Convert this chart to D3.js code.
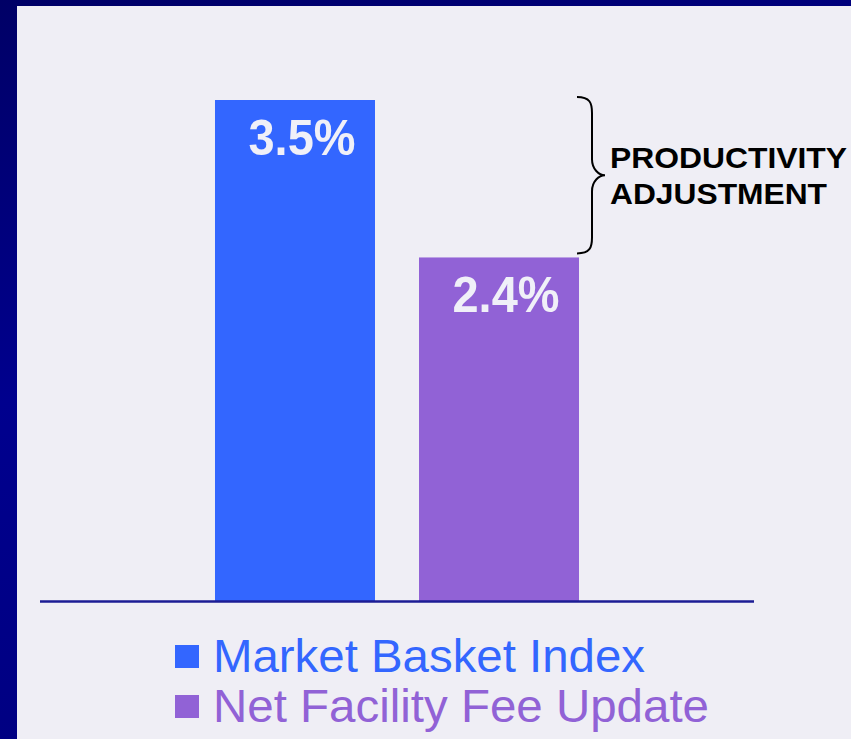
<!DOCTYPE html>
<html>
<head>
<meta charset="utf-8">
<script src="https://cdn.jsdelivr.net/npm/d3@7"></script>
<style>
  html, body { margin: 0; padding: 0; background: #00007a; }
  svg { display: block; font-family: Arial, "Liberation Sans", sans-serif; }
</style>
</head>
<body>
<svg id="chart"></svg>
<script>
const categories = ['Market Basket Index', 'Net Facility Fee Update']
const values = [3.5, 2.4]
const valueLabels = ['3.5%', '2.4%']
const colors = ['#3366ff', '#9162d6']
const braceLabel = ['PRODUCTIVITY', 'ADJUSTMENT']

const conf = {
  width: 851,
  height: 739,
  panel: { x: 17, y: 6 },
  baseline: 601,
  top: 100,
  axisX: [40, 754],
  panelColor: '#efeef5'
}

const svg = d3.select('#chart')
  .attr('width', conf.width)
  .attr('height', conf.height)

// navy frame with a soft diagonal shade
const grad = svg.append('defs').append('linearGradient')
  .attr('id', 'frame')
  .attr('x1', 0).attr('y1', 0).attr('x2', 0.3).attr('y2', 1)
grad.append('stop').attr('offset', 0).attr('stop-color', '#000066')
grad.append('stop').attr('offset', 0.5).attr('stop-color', '#00008e')
grad.append('stop').attr('offset', 1).attr('stop-color', '#000080')

svg.append('rect')
  .attr('width', conf.width)
  .attr('height', conf.height)
  .attr('fill', 'url(#frame)')

svg.append('rect')
  .attr('x', conf.panel.x)
  .attr('y', conf.panel.y)
  .attr('width', conf.width - conf.panel.x)
  .attr('height', conf.height - conf.panel.y)
  .attr('fill', conf.panelColor)

// scales
const x = d3.scaleBand()
  .domain(categories)
  .range([193, 601])
  .paddingInner(0.2157)
  .paddingOuter(0.1078)

const y = d3.scaleLinear()
  .domain([0, d3.max(values)])
  .range([conf.baseline, conf.top])

const data = categories.map((c, i) => ({ name: c, value: values[i], label: valueLabels[i], color: colors[i] }))

// bars
svg.selectAll('.bar')
  .data(data)
  .enter()
  .append('rect')
  .attr('class', 'bar')
  .attr('x', d => x(d.name))
  .attr('y', d => y(d.value))
  .attr('width', x.bandwidth())
  .attr('height', d => y(0) - y(d.value))
  .attr('fill', d => d.color)

// value labels inside bars
svg.selectAll('.value')
  .data(data)
  .enter()
  .append('text')
  .attr('class', 'value')
  .attr('x', d => x(d.name) + x.bandwidth() / 2 + 7)
  .attr('y', d => y(d.value) + 55)
  .attr('text-anchor', 'middle')
  .attr('font-size', 50)
  .attr('font-weight', 'bold')
  .attr('textLength', 107)
  .attr('lengthAdjust', 'spacingAndGlyphs')
  .attr('fill', '#f0f0f8')
  .text(d => d.label)

// baseline
svg.append('line')
  .attr('x1', conf.axisX[0])
  .attr('x2', conf.axisX[1])
  .attr('y1', y(0) + 0.5)
  .attr('y2', y(0) + 0.5)
  .attr('stroke', '#1c1c94')
  .attr('stroke-width', 2.5)

// brace between the two bar tops
const yTop = y(values[0]) - 3
const yBot = y(values[1]) - 4
const yMid = (yTop + yBot) / 2
const bx = 577, bv = 592, bp = 605
const brace = d3.path()
brace.moveTo(bx, yTop)
brace.bezierCurveTo(bv - 2, yTop, bv, yTop + 6, bv, yTop + 16)
brace.lineTo(bv, yMid - 16)
brace.bezierCurveTo(bv, yMid - 6, bp - 6, yMid, bp, yMid)
brace.bezierCurveTo(bp - 6, yMid, bv, yMid + 6, bv, yMid + 16)
brace.lineTo(bv, yBot - 16)
brace.bezierCurveTo(bv, yBot - 6, bv - 2, yBot, bx, yBot)

svg.append('path')
  .attr('d', brace.toString())
  .attr('fill', 'none')
  .attr('stroke', '#000')
  .attr('stroke-width', 2)

svg.selectAll('.brace-label')
  .data(braceLabel)
  .enter()
  .append('text')
  .attr('class', 'brace-label')
  .attr('x', 610)
  .attr('y', (d, i) => 168 + i * 36)
  .attr('font-size', 30)
  .attr('font-weight', 'bold')
  .attr('textLength', (d, i) => i === 0 ? 237 : 217)
  .attr('lengthAdjust', 'spacingAndGlyphs')
  .attr('fill', '#000')
  .text(d => d)

// legend
const legend = svg.selectAll('.legend')
  .data(data)
  .enter()
  .append('g')
  .attr('class', 'legend')
  .attr('transform', (d, i) => `translate(175, ${645 + i * 50})`)

legend.append('rect')
  .attr('width', 24)
  .attr('height', 23)
  .attr('fill', d => d.color)

legend.append('text')
  .attr('x', 38)
  .attr('y', 27)
  .attr('font-size', 47)
  .attr('textLength', (d, i) => i === 0 ? 432 : 496)
  .attr('lengthAdjust', 'spacingAndGlyphs')
  .attr('fill', d => d.color)
  .text(d => d.name)
</script>
</body>
</html>
